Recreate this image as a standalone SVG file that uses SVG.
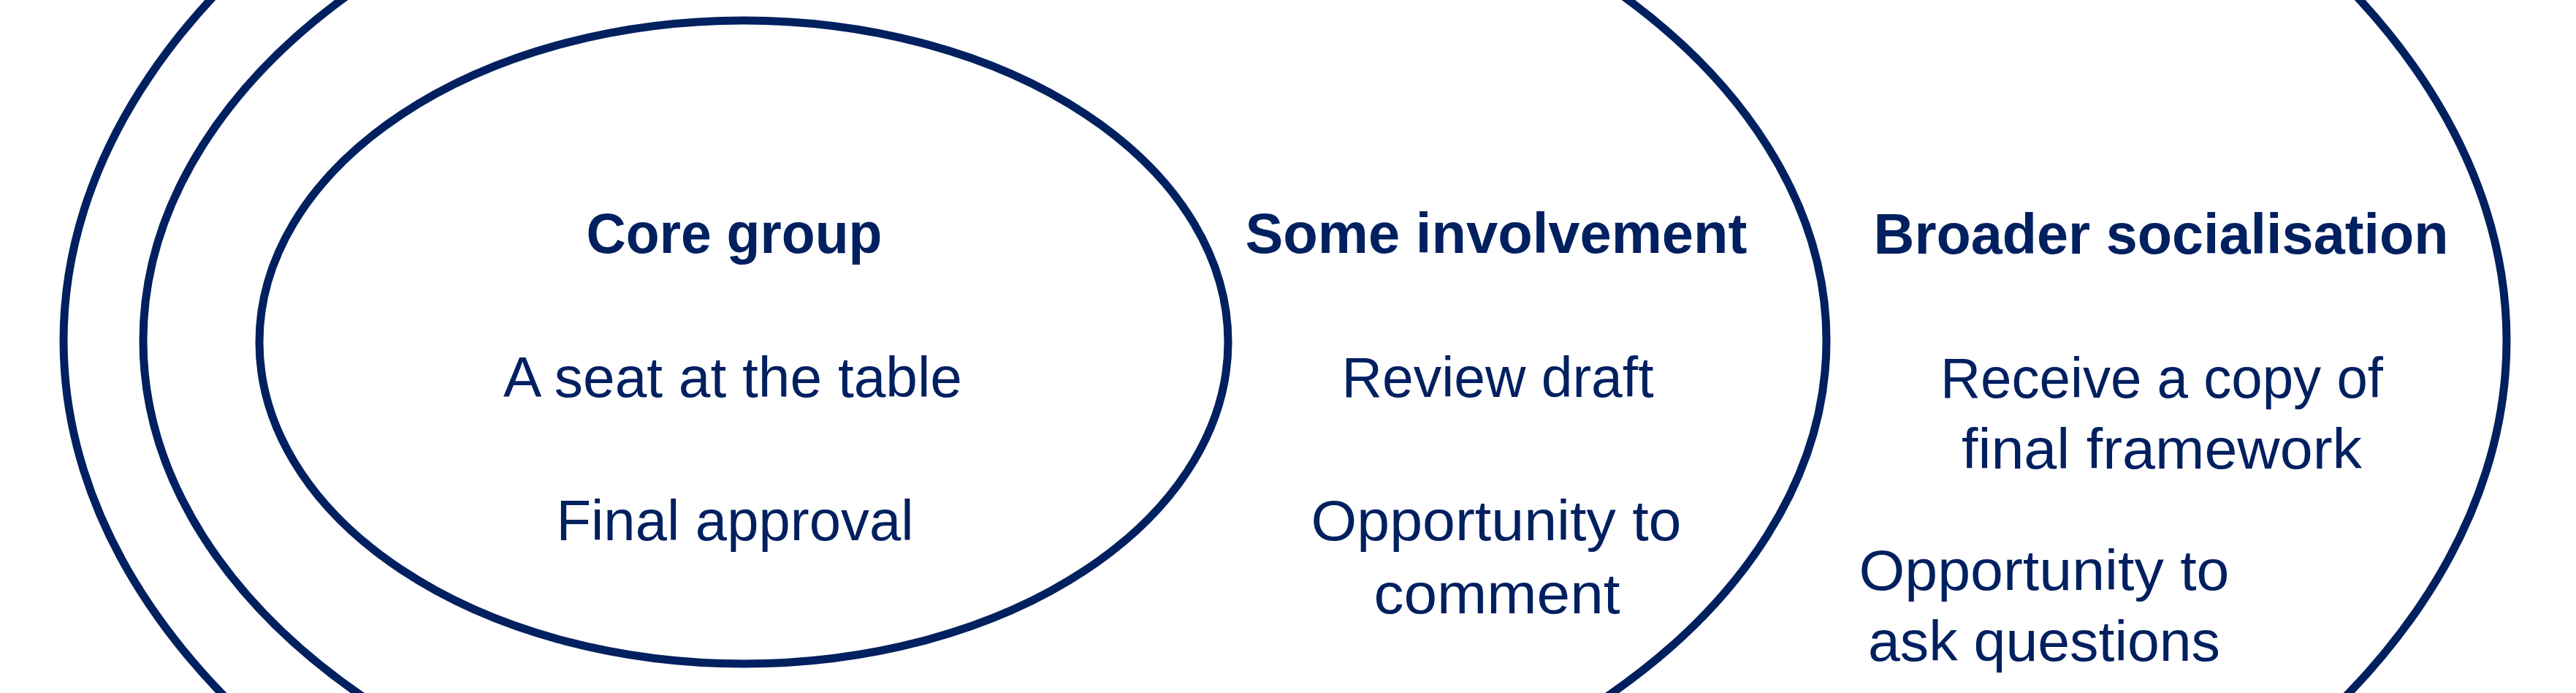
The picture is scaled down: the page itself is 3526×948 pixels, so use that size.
<svg xmlns="http://www.w3.org/2000/svg" width="3526" height="948" viewBox="0 0 3526 948">
<style>
.ring{fill:none;stroke:#002060;stroke-width:11}
.t{font-family:"Liberation Sans",Arial,sans-serif;font-size:77px;fill:#002060;text-anchor:middle}
.h{font-weight:bold}
</style>
<rect width="3526" height="948" fill="#ffffff"/>
<g id="broader">
<ellipse class="ring" cx="1759" cy="466" rx="1672" ry="981"/>
<text class="t h" x="2958" y="347" textLength="787" lengthAdjust="spacingAndGlyphs">Broader socialisation</text>
<text class="t" x="2959" y="544" textLength="606" lengthAdjust="spacingAndGlyphs">Receive a copy of</text>
<text class="t" x="2959" y="641" textLength="548" lengthAdjust="spacingAndGlyphs">final framework</text>
<text class="t" x="2798" y="807" textLength="507" lengthAdjust="spacingAndGlyphs">Opportunity to</text>
<text class="t" x="2798" y="904" textLength="482" lengthAdjust="spacingAndGlyphs">ask questions</text>
</g>
<g id="some">
<ellipse class="ring" cx="1348" cy="466" rx="1152" ry="723"/>
<text class="t h" x="2048" y="346" textLength="687" lengthAdjust="spacingAndGlyphs">Some involvement</text>
<text class="t" x="2050" y="543" textLength="427" lengthAdjust="spacingAndGlyphs">Review draft</text>
<text class="t" x="2048" y="739" textLength="507" lengthAdjust="spacingAndGlyphs">Opportunity to</text>
<text class="t" x="2049" y="839" textLength="337" lengthAdjust="spacingAndGlyphs">comment</text>
</g>
<g id="core">
<ellipse class="ring" cx="1018" cy="468" rx="663" ry="440"/>
<text class="t h" x="1005" y="346" textLength="405" lengthAdjust="spacingAndGlyphs">Core group</text>
<text class="t" x="1003" y="543" textLength="628" lengthAdjust="spacingAndGlyphs">A seat at the table</text>
<text class="t" x="1006" y="739" textLength="489" lengthAdjust="spacingAndGlyphs">Final approval</text>
</g>
</svg>
